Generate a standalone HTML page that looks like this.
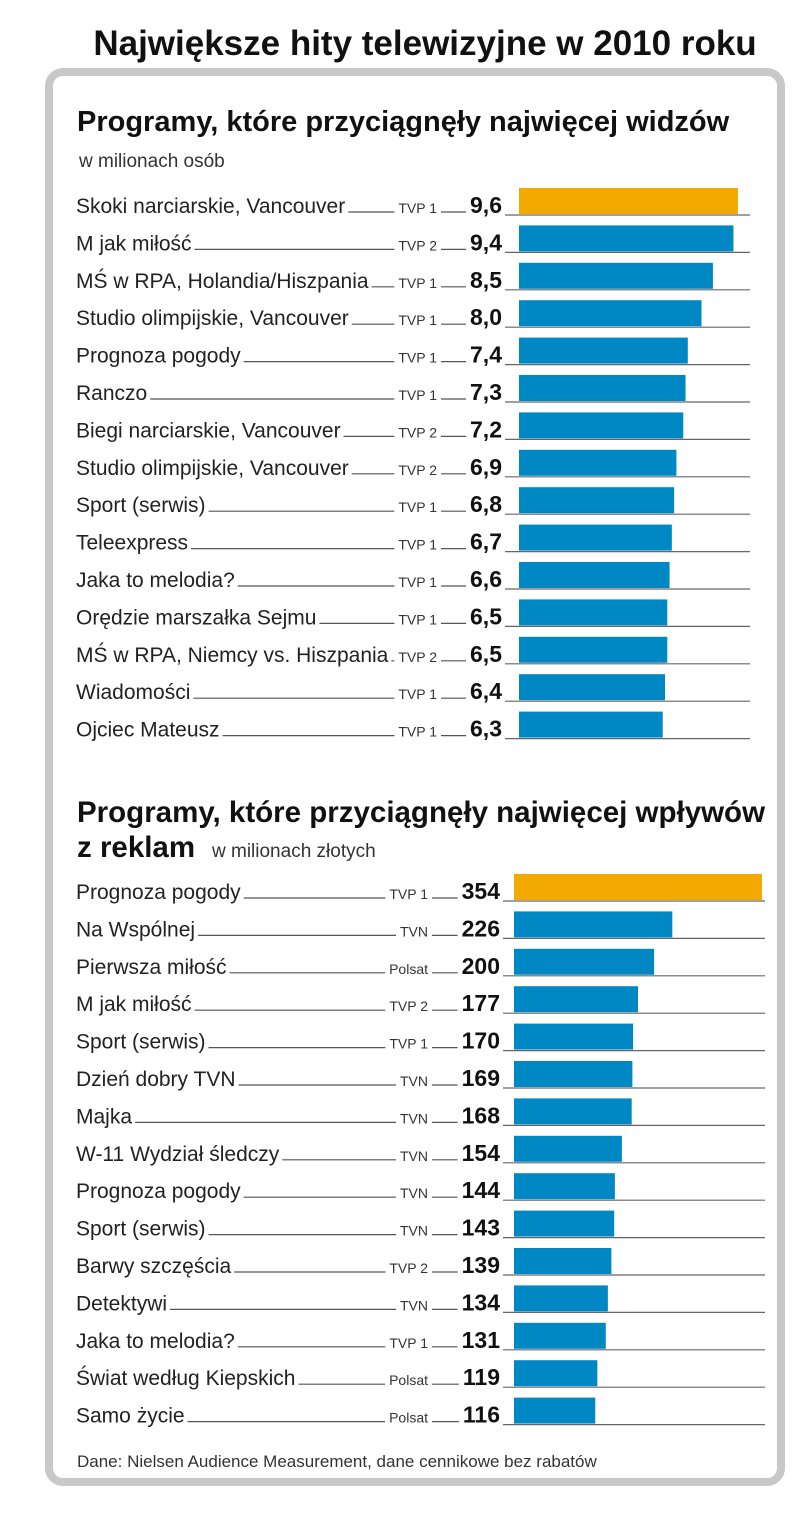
<!DOCTYPE html>
<html><head><meta charset="utf-8"><style>
html,body{margin:0;padding:0;background:#fff;}
body{width:805px;height:1508px;overflow:hidden;}
svg text{font-family:"Liberation Sans Narrow","Liberation Sans",sans-serif;}
</style></head><body>
<svg id="chart" width="805" height="1508" xmlns="http://www.w3.org/2000/svg">
<text x="425" y="55" text-anchor="middle" font-size="35" font-weight="bold" fill="#111">Największe hity telewizyjne w 2010 roku</text>
<rect x="49" y="72" width="732" height="1410" rx="14" fill="#fff" stroke="#c8c8c8" stroke-width="8"/>
<text x="77" y="131" font-size="29" font-weight="bold" fill="#111">Programy, które przyciągnęły najwięcej widzów</text>
<text x="79" y="167" font-size="19" fill="#333">w milionach osób</text>
<text x="77" y="822" font-size="29.5" font-weight="bold" fill="#111">Programy, które przyciągnęły najwięcej wpływów</text>
<text x="77" y="857" font-size="29.5" font-weight="bold" fill="#111">z reklam</text>
<text x="212" y="857" font-size="19" fill="#333">w milionach złotych</text>
<text x="77" y="1467" font-size="17" fill="#333">Dane: Nielsen Audience Measurement, dane cennikowe bez rabatów</text>
<g id="g1"></g>
<g id="g2"></g>
</svg>
<script>
const names1 = ["Skoki narciarskie, Vancouver","M jak miłość","MŚ w RPA, Holandia/Hiszpania","Studio olimpijskie, Vancouver","Prognoza pogody","Ranczo","Biegi narciarskie, Vancouver","Studio olimpijskie, Vancouver","Sport (serwis)","Teleexpress","Jaka to melodia?","Orędzie marszałka Sejmu","MŚ w RPA, Niemcy vs. Hiszpania","Wiadomości","Ojciec Mateusz"];
const channels1 = ["TVP 1","TVP 2","TVP 1","TVP 1","TVP 1","TVP 1","TVP 2","TVP 2","TVP 1","TVP 1","TVP 1","TVP 1","TVP 2","TVP 1","TVP 1"];
const values1 = [9.6,9.4,8.5,8.0,7.4,7.3,7.2,6.9,6.8,6.7,6.6,6.5,6.5,6.4,6.3];
const labels1 = ["9,6","9,4","8,5","8,0","7,4","7,3","7,2","6,9","6,8","6,7","6,6","6,5","6,5","6,4","6,3"];
const names2 = ["Prognoza pogody","Na Wspólnej","Pierwsza miłość","M jak miłość","Sport (serwis)","Dzień dobry TVN","Majka","W-11 Wydział śledczy","Prognoza pogody","Sport (serwis)","Barwy szczęścia","Detektywi","Jaka to melodia?","Świat według Kiepskich","Samo życie"];
const channels2 = ["TVP 1","TVN","Polsat","TVP 2","TVP 1","TVN","TVN","TVN","TVN","TVN","TVP 2","TVN","TVP 1","Polsat","Polsat"];
const values2 = [354,226,200,177,170,169,168,154,144,143,139,134,131,119,116];
const labels2 = values2.map(String);

const NS="http://www.w3.org/2000/svg";
function mk(g,tag,attrs){const e=document.createElementNS(NS,tag);for(const k in attrs)e.setAttribute(k,attrs[k]);g.appendChild(e);return e;}
function draw(gid,names,chans,vals,labs,cfg){
  const g=document.getElementById(gid);
  const maxV=Math.max(...vals);
  const xs=v=>cfg.x0+v/maxV*cfg.maxW;
  const ys=i=>cfg.y0+i*cfg.step;
  names.forEach((n,i)=>{
    const yb=ys(i);
    const t=mk(g,'text',{x:76,y:yb-2,'font-size':21,fill:'#222'});t.textContent=n;
    
    
    const w=t.getComputedTextLength();
    const ch=mk(g,'text',{x:cfg.chX,y:yb-2,'font-size':14,fill:'#333','text-anchor':'end'});ch.textContent=chans[i];
    
    
    const cw=ch.getComputedTextLength();
    const l1=mk(g,'line',{x1:76+w+3,x2:cfg.chX-cw-4,y1:yb-3,y2:yb-3,stroke:'#555','stroke-width':1.2});
    
    
    const v=mk(g,'text',{x:cfg.valX,y:yb-2,'font-size':23,'font-weight':'bold',fill:'#111','text-anchor':'end'});v.textContent=labs[i];
    
    
    const vw=v.getComputedTextLength();
    const l2=mk(g,'line',{x1:cfg.chX+4,x2:cfg.valX-vw-4,y1:yb-3,y2:yb-3,stroke:'#555','stroke-width':1.2});
    
    
    const bl=mk(g,'line',{x1:cfg.valX+3,x2:cfg.lineEnd,y1:yb,y2:yb,stroke:'#666','stroke-width':1.2});
    
    
    const r=mk(g,'rect',{x:cfg.x0,y:yb-27,width:xs(vals[i])-cfg.x0,height:26,fill:i===0?'#f2a900':'#0088c4'});
    
    
  });
}
draw('g1',names1,channels1,values1,labels1,{x0:519,maxW:219,y0:215,step:37.4,chX:437,valX:502,lineEnd:750});
draw('g2',names2,channels2,values2,labels2,{x0:514,maxW:248,y0:901,step:37.4,chX:428,valX:500,lineEnd:765});
</script>
</body></html>
